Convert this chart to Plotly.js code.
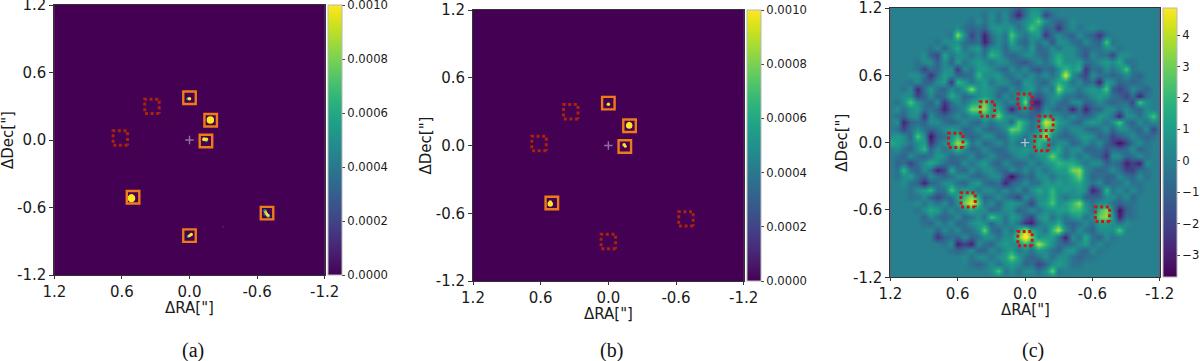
<!DOCTYPE html>
<html>
<head>
<meta charset="utf-8">
<script src="https://cdn.plot.ly/plotly-3.0.1.min.js"></script>
<style>
html,body{margin:0;padding:0;background:#fff;overflow:hidden}
#chart{position:absolute;left:0;top:-30px;width:1200px;height:391px}
.hm image{filter:blur(0.7px)}
</style>
</head>
<body>
<div id="chart"></div>
<script>
const tickValues = [1.2, 0.6, 0, -0.6, -1.2];
const tickLabels = ['1.2', '0.6', '0.0', '-0.6', '-1.2'];
const fluxTicks = [0, 0.0002, 0.0004, 0.0006, 0.0008, 0.001];
const snrTicks = [-3, -2, -1, 0, 1, 2, 3, 4];
const panelLabels = ['(a)', '(b)', '(c)'];

// detected-candidate box centres, RA / Dec in arcsec
const boxRaA = [0, -0.188, -0.146, 0.501, -0.688, 0];
const boxDecA = [0.375, 0.175, -0.009, -0.509, -0.65, -0.85];
const missRaA = [0.333, 0.614];
const missDecA = [0.299, 0.018];
const boxRaB = [0, -0.188, -0.146, 0.501];
const boxDecB = [0.375, 0.175, -0.009, -0.509];
const missRaB = [0.333, 0.614, 0, -0.688];
const missDecB = [0.299, 0.018, -0.85, -0.65];
const missRaC = [0, -0.187, -0.148, 0.507, -0.69, 0, 0.335, 0.617];
const missDecC = [0.37, 0.172, -0.009, -0.51, -0.638, -0.855, 0.3, 0.02];

// bright emission in panels a and b
const blobRaA = [0.015, 0, -0.185, -0.15, -0.13, -0.15, 0.515, 0.515, 0.515, -0.67, -0.70, -0.67, -0.675, -0.685, -0.695, 0.01, 0, -0.015, -0.3];
const blobDecA = [0.366, 0.366, 0.178, -0.006, 0.006, 0.006, -0.50, -0.517, -0.535, -0.63, -0.675, -0.66, -0.64, -0.655, -0.668, -0.855, -0.85, -0.84, -0.77];
const blobFluxA = [0.0006, 0.001, 0.001, 0.0004, 0.001, 0.001, 0.001, 0.001, 0.001, 0.0004, 0.0005, 0.0003, 0.0009, 0.001, 0.001, 0.0006, 0.001, 0.001, 0.00012];
const blobWidthA = [3, 3.5, 7.5, 3, 4, 3.5, 4.5, 7.5, 4.5, 4, 4, 3, 3, 3, 3, 3, 3, 3.5, 2];
const blobRaB = [0, -0.185, -0.185, -0.14, -0.15, 0.515, 0.515];
const blobDecB = [0.366, 0.178, 0.195, 0.006, -0.006, -0.517, -0.50];
const blobFluxB = [0.001, 0.001, 0.001, 0.001, 0.001, 0.001, 0.001];
const blobWidthB = [3.5, 6.5, 3.5, 3.5, 3, 5.5, 3.5];

// panel c map, read by eye on a 0.06 arcsec grid; rows from Dec 1.2 down, columns from RA 1.2 to -1.2
const snrRows = [
[0,0,0,0,0,0,0,0,0,0,0,0,0,0,0,0,0,0,-.5,-1.5,-.5,.5,.5,0,0,0,0,0,0,0,0,0,0,0,0,0,0,0,0,0,0],
[0,0,0,0,0,0,0,0,0,0,0,0,0,0,-.5,.5,-.5,.5,-1,-3,-.5,1,1,-2,-.5,0,0,0,0,0,0,0,0,0,0,0,0,0,0,0,0],
[0,0,0,0,0,0,0,0,0,0,0,0,-.5,.5,-.5,.5,-.5,.5,-.5,-.5,.5,1,2.5,.5,-.5,-1,-.5,.5,0,0,0,0,0,0,0,0,0,0,0,0,0],
[0,0,0,0,0,0,0,0,0,0,.5,-.5,-1,-.5,-1,.5,1,.5,1,-.5,.5,2.5,1,-1,-.5,-2.5,-.5,.5,-.5,0,.5,0,0,0,0,0,0,0,0,0,0],
[0,0,0,0,0,0,0,0,0,-.5,3.5,.5,-2,-.5,-3,-.5,.5,-.5,2.5,.5,-.5,.5,1,-2.5,-.5,.5,-.5,-1,.5,-.5,-1,-2.5,-.5,0,0,0,0,0,0,0,0],
[0,0,0,0,0,0,0,-.5,.5,.5,.5,-.5,-1,-.5,-3,-1,.5,-.5,1.5,-.5,-1,.5,-.5,.5,-1.5,.5,.5,-.5,-1,.5,-.5,-1,2.5,-.5,0,0,0,0,0,0,0],
[0,0,0,0,0,0,-.5,.5,-1,.5,1.5,-.5,.5,1,-1,.5,.5,-1,.5,.5,-.5,1,-1,-.5,.5,-.5,.5,.5,-.5,-1,-.5,-.5,.5,.5,-.5,0,0,0,0,0,0],
[0,0,0,0,0,.5,-1,-2,1.5,-.5,.5,.5,-.5,.5,-.5,2,1,-.5,-1,-.5,.5,.5,-.5,-1,.5,1.5,.5,.5,-.5,-1.5,.5,-.5,-.5,-2,.5,.5,0,0,0,0,0],
[0,0,0,0,-.5,.5,.5,-1,.5,-1,1,-.5,.5,1,.5,-.5,.5,.5,-.5,-1,-1.5,-.5,.5,-.5,.5,2,.5,.5,1,-.5,-.5,.5,1,.5,1.5,-.5,-.5,0,0,0,0],
[0,0,0,0,-.5,-2,-.5,-1,.5,.5,-2.5,.5,-.5,1,1,.5,-.5,-1,.5,-.5,.5,-1,-1.5,-.5,-1,.5,2,1,1.5,-2.5,-.5,-1,.5,-.5,.5,2.5,-.5,0,0,0,0],
[0,0,0,.5,.5,-.5,-2.5,-.5,1,.5,-1,-1,-.5,2,.5,.5,1,-.5,-.5,.5,-.5,.5,-.5,.5,-.5,.5,4.5,.5,-1,-2,.5,-.5,-.5,-1,-.5,.5,-.5,-1,0,0,0],
[0,0,0,-.5,.5,-1,-1,.5,1,-2.5,2,1,-.5,.5,1,-.5,.5,.5,-.5,-1,1,.5,-.5,-1,.5,1.5,1,-.5,.5,-1,-.5,-3,1,.5,-1,-.5,-1,-.5,0,0,0],
[0,0,-.5,.5,-3,-.5,1,-.5,-1,.5,-.5,1,3.5,.5,1,.5,-.5,-1,.5,-.5,.5,1,-.5,.5,-.5,3.5,1,.5,-.5,.5,1,.5,2.5,-1,-2,-1,.5,-.5,-1,0,0],
[0,0,.5,.5,-2,-1,.5,-1,-.5,1.5,.5,-1,-.5,.5,1,.5,-1,.5,-.5,.5,1.5,-.5,-1.5,-.5,.5,1,-.5,-.5,-1,-.5,.5,1,.5,-.5,-1,-2,-.5,-3,-.5,0,0],
[0,-.5,.5,2.5,.5,-.5,-1,.5,-2.5,-.5,.5,-.5,1,1.5,3,.5,.5,-.5,.5,-.5,3.5,-3,-3,-.5,.5,-.5,-1,.5,.5,-1,-.5,.5,-.5,-1,-.5,-.5,-2,2.5,.5,0,0],
[0,.5,-.5,.5,1,-.5,-.5,-1,-3,-1,-.5,.5,3,3,3.5,1,1.5,-.5,-3,-.5,.5,-1,-2,.5,-.5,-1,-.5,-3,-.5,-3,-1,-1,.5,.5,-.5,.5,-.5,-1,.5,0,0],
[0,-.5,-1,.5,.5,-2.5,.5,-.5,-1,-.5,.5,-.5,.5,.5,1.5,1,3,.5,.5,-.5,-.5,-1,-.5,1.5,.5,.5,-.5,.5,-.5,-1,-.5,1,.5,-.5,-3,.5,.5,-.5,.5,2.5,0],
[0,.5,-3,-1,-.5,-1,.5,.5,-.5,-1,-.5,.5,-.5,-1,.5,-.5,.5,.5,-1,2.5,1,-.5,.5,4.5,3,1,.5,-.5,-1,.5,1,.5,-.5,.5,2.5,-.5,-1,.5,-.5,.5,0],
[0,-.5,-2,-.5,.5,-.5,-1,-.5,.5,1,.5,-1,-.5,.5,-.5,-1,-.5,.5,3,2.5,.5,-.5,.5,2.5,2,.5,-.5,.5,.5,-.5,-1,-.5,.5,-1,.5,.5,-.5,-1,.5,-2,0],
[.5,1,.5,-1,2.5,.5,-3.5,-1,-.5,.5,2,-.5,-1,-.5,.5,.5,-1,-.5,1,.5,-.5,.5,1.5,4,.5,-.5,-1,-.5,.5,1,.5,-1,-.5,-2,-1,-.5,.5,-.5,-1,-.5,0],
[1.5,1,.5,-.5,.5,1,-2.5,-.5,.5,1.5,3.5,3,-.5,.5,-1,-.5,.5,-.5,.5,-.5,-.5,.5,2,.5,-.5,.5,.5,-1,-.5,.5,-.5,.5,-1,-2,-3.5,-2,-.5,.5,-.5,0,0],
[0,.5,-.5,-1,.5,2,-1,.5,-.5,.5,2,.5,-1,-.5,.5,-.5,-1,-.5,.5,.5,1,.5,1.5,.5,.5,1.5,-.5,.5,.5,-1,-1,-.5,-1.5,-.5,-1,-.5,.5,-1,-.5,0,0],
[0,-.5,-1,.5,-.5,-1,-.5,1,.5,-1,-.5,-.5,.5,-1,-.5,.5,-.5,-1,-.5,.5,.5,-.5,.5,1,3,1,-.5,.5,-.5,.5,-.5,-1,-2.5,.5,.5,-1,-.5,.5,-.5,0,0],
[0,-1,-.5,-2,-.5,.5,1.5,.5,-.5,-1,-1,.5,-.5,.5,1,-.5,-1,.5,-.5,-1,-.5,.5,-.5,.5,1,2,1.5,1.5,.5,-.5,.5,.5,-1,-.5,-1,-3,-2,-3,.5,0,0],
[0,-.5,2,-.5,-1,.5,-.5,-3,-2,1.5,-.5,-1,.5,-.5,.5,.5,-.5,-1,.5,-.5,.5,-.5,.5,-.5,.5,1,1,3,3.5,.5,-.5,-1,-.5,.5,-.5,-2,-2,-.5,-.5,0,0],
[0,-.5,.5,1,-.5,-1,.5,-.5,-1,-.5,.5,.5,-.5,-1,-.5,.5,.5,-1.5,-3.5,-1.5,-.5,-1,.5,.5,-.5,.5,.5,1.5,3,.5,-1,-.5,-1,-1,.5,-.5,-1,.5,-.5,0,0],
[0,0,.5,-.5,-1,-3,-1,-.5,.5,.5,-.5,-1,.5,1,-.5,-1,-.5,-3,-1,-.5,.5,-.5,-.5,1,.5,1,.5,1,1.5,.5,-.5,.5,-1,-.5,-.5,.5,-.5,-.5,0,0,0],
[0,0,0,-.5,.5,1,2,-.5,-.5,2.5,.5,1,.5,-.5,.5,.5,-.5,.5,-.5,.5,-1,.5,1.5,.5,2,.5,1,.5,1,.5,-3,-1.5,2,-.5,.5,-.5,.5,-.5,0,0,0],
[0,0,0,-.5,-.5,.5,-1,-2,-1,-.5,1,2,3.5,1.5,-1,-.5,.5,-.5,-1,-2,.5,-.5,.5,.5,2,.5,-.5,.5,.5,-1,-1,-1,.5,.5,-.5,.5,-1,0,0,0,0],
[0,0,0,0,.5,-.5,.5,-.5,.5,-1,.5,3,4.5,2.5,-.5,.5,-1,.5,1,.5,-.5,-2,.5,1,2.5,.5,1,2,3.5,.5,-.5,.5,.5,-.5,-1,-.5,-.5,0,0,0,0],
[0,0,0,0,-.5,.5,1.5,1,-.5,.5,-.5,.5,1.5,.5,.5,-1,-.5,.5,.5,-1,-.5,.5,-.5,.5,.5,1,1,2,2,1,-.5,2,3.5,.5,-3.5,-1,-.5,0,0,0,0],
[0,0,0,0,0,-1,.5,-.5,-1,-.5,.5,-1,-.5,.5,-.5,2.5,1,-.5,1,.5,-1,-2,.5,1,-.5,.5,-.5,.5,1,-.5,.5,3,3.5,1,-3,-.5,-.5,0,0,0,0],
[0,0,0,0,0,-.5,-1,.5,-.5,.5,-1,-.5,.5,1,.5,-1,.5,-.5,.5,-.5,-2.5,-3,-.5,.5,.5,1.5,-.5,-1,-.5,.5,-.5,1,1,.5,-.5,.5,0,0,0,0,0],
[0,0,0,0,0,0,.5,-1,.5,-.5,.5,-1,-.5,.5,3,-.5,-1,.5,-.5,1.5,4,1.5,.5,-.5,2,4,.5,-1,.5,-.5,-1,.5,.5,.5,2.5,0,0,0,0,0,0],
[0,0,0,0,0,0,0,-2.5,-1,-.5,-1,.5,-1,-.5,.5,.5,-.5,.5,.5,3,5.5,3,.5,1,1,-.5,-3,.5,-.5,1.5,-.5,-1,.5,-.5,0,0,0,0,0,0,0],
[0,0,0,0,0,0,0,0,-.5,.5,-3,-2,-3,.5,-.5,-1,.5,1,.5,.5,2,.5,4,2,.5,-.5,-1,-.5,.5,1,-.5,.5,-.5,0,0,0,0,0,0,0,0],
[0,0,0,0,0,0,0,0,0,-.5,-1,-.5,.5,-1,-1,.5,-.5,.5,1,-.5,.5,-.5,1,.5,-.5,-1,.5,1,-.5,-1,.5,-.5,0,0,0,0,0,0,0,0,0],
[0,0,0,0,0,0,0,0,0,0,0,.5,-.5,.5,.5,-.5,.5,1,3,1,-.5,-1,-.5,.5,-.5,.5,.5,-.5,-1,-.5,-.5,0,0,0,0,0,0,0,0,0,0],
[0,0,0,0,0,0,0,0,0,0,0,0,-.5,-1,-.5,.5,-.5,.5,1,.5,-1,-.5,-2,-1,.5,1,.5,-.5,-.5,0,0,0,0,0,0,0,0,0,0,0,0],
[0,0,0,0,0,0,0,0,0,0,0,0,0,0,0,.5,2.5,-.5,.5,-.5,.5,.5,-.5,.5,3,-.5,0,0,0,0,0,0,0,0,0,0,0,0,0,0,0],
[0,0,0,0,0,0,0,0,0,0,0,0,0,0,0,0,0,0,0,0,0,0,0,0,0,0,0,0,0,0,0,0,0,0,0,0,0,0,0,0,0]
];
const snrRa = [1.2,1.14,1.08,1.02,0.96,0.9,0.84,0.78,0.72,0.66,0.6,0.54,0.48,0.42,0.36,0.3,0.24,0.18,0.12,0.06,0,-0.06,-0.12,-0.18,-0.24,-0.3,-0.36,-0.42,-0.48,-0.54,-0.6,-0.66,-0.72,-0.78,-0.84,-0.9,-0.96,-1.02,-1.08,-1.14,-1.2];
const snrDec = snrRa;
const emptyEdge = [-1.2, 1.2];
const emptyMap = [[0, 0], [0, 0]];
const centreRa = [0];
const centreDec = [0];

const W = 1200, PAD = 30, H = 361 + PAD;
const fy = px => 1 - (px + PAD) / H;
const panels = [
  {ax: '', l: 54.3, r: 324.7, t: 5, b: 275, cbL: 327.7, titleX: 189.5, yTitle: 8, labelX: 193},
  {ax: '2', l: 473, r: 743.7, t: 10, b: 281, cbL: 747, titleX: 608.3, yTitle: 425, labelX: 611.7},
  {ax: '3', l: 890.3, r: 1159.7, t: 8, b: 277.3, cbL: 1163, titleX: 1025, yTitle: 842, labelX: 1032.7}
];

function colourbar(p, ticks, fmt) {
  return {
    x: p.cbL / W, xanchor: 'left', xpad: 0, ypad: 0,
    y: fy(p.b), yanchor: 'bottom', len: (p.b - p.t) / H, lenmode: 'fraction',
    thickness: 14, thicknessmode: 'pixels',
    outlinecolor: '#b8b8b8', outlinewidth: 1,
    tickmode: 'array', tickvals: ticks, tickformat: fmt,
    ticks: 'outside', ticklen: 3, tickwidth: 1, tickcolor: '#444',
    tickfont: {family: 'DejaVu Sans', size: 11.6, color: '#1a1a1a'}
  };
}

function squares(ax, ra, dec) {
  return {type: 'scatter', mode: 'markers', x: ra, y: dec, xaxis: 'x' + ax, yaxis: 'y' + ax, hoverinfo: 'skip',
    marker: {symbol: 'square-open', size: 12.5, color: '#ee7a18', opacity: 1, line: {width: 2.4, color: '#ee7a18'}}};
}

function dotted(ax, ra, dec, colour) {
  const half = 0.064, xs = [], ys = [];
  ra.forEach((r, i) => {
    xs.push(r - half, r + half, r + half, r - half, r - half, null);
    ys.push(dec[i] - half, dec[i] - half, dec[i] + half, dec[i] + half, dec[i] - half, null);
  });
  return {type: 'scatter', mode: 'lines', x: xs, y: ys, xaxis: 'x' + ax, yaxis: 'y' + ax, hoverinfo: 'skip',
    line: {color: colour, width: 3, dash: '3px,2.6px'}};
}

function blobs(ax, ra, dec, flux, width) {
  return {type: 'scatter', mode: 'markers', x: ra, y: dec, xaxis: 'x' + ax, yaxis: 'y' + ax, hoverinfo: 'skip',
    marker: {color: flux, cmin: 0, cmax: 0.001, colorscale: 'Viridis', size: width, opacity: 1, line: {width: 0}}};
}

function centre(ax, colour) {
  return {type: 'scatter', mode: 'markers', x: centreRa, y: centreDec, xaxis: 'x' + ax, yaxis: 'y' + ax, hoverinfo: 'skip',
    marker: {symbol: 'cross-thin-open', size: 6, color: colour, line: {width: 1.4, color: colour}}};
}

const data = [
  {type: 'heatmap', x: emptyEdge, y: emptyEdge, z: emptyMap, zmin: 0, zmax: 0.001, colorscale: 'Viridis', xaxis: 'x', yaxis: 'y',
   colorbar: colourbar(panels[0], fluxTicks, '.4f')},
  blobs('', blobRaA, blobDecA, blobFluxA, blobWidthA),
  squares('', boxRaA, boxDecA),
  dotted('', missRaA, missDecA, '#a8240c'),
  centre('', '#8f6f9f'),
  {type: 'heatmap', x: emptyEdge, y: emptyEdge, z: emptyMap, zmin: 0, zmax: 0.001, colorscale: 'Viridis', xaxis: 'x2', yaxis: 'y2',
   colorbar: colourbar(panels[1], fluxTicks, '.4f')},
  blobs('2', blobRaB, blobDecB, blobFluxB, blobWidthB),
  squares('2', boxRaB, boxDecB),
  dotted('2', missRaB, missDecB, '#a8240c'),
  centre('2', '#8f6f9f'),
  {type: 'heatmap', x: snrRa, y: snrDec, z: snrRows, zmin: -3.7, zmax: 4.85, colorscale: 'Viridis', zsmooth: 'best', xaxis: 'x3', yaxis: 'y3',
   colorbar: colourbar(panels[2], snrTicks, 'd')},
  dotted('3', missRaC, missDecC, '#cf1616'),
  centre('3', '#a9c7cf')
];

const layout = {
  width: W, height: H, margin: {l: 0, r: 0, t: 0, b: 0}, showlegend: false,
  paper_bgcolor: '#fff', plot_bgcolor: '#440154',
  font: {family: 'DejaVu Sans', color: '#1a1a1a'},
  annotations: []
};

panels.forEach((p, i) => {
  const common = {
    range: [1.2, -1.2], autorange: false, tickmode: 'array', tickvals: tickValues, ticktext: tickLabels,
    ticks: 'outside', ticklen: 4, tickwidth: 1, tickcolor: '#333', showgrid: false, zeroline: false,
    showline: true, mirror: true, linecolor: '#333', linewidth: 1,
    tickfont: {family: 'DejaVu Sans', size: 15, color: '#1a1a1a'}
  };
  layout['xaxis' + p.ax] = Object.assign({}, common, {domain: [p.l / W, p.r / W], anchor: 'y' + p.ax, ticklen: 3});
  layout['yaxis' + p.ax] = Object.assign({}, common, {domain: [fy(p.b), fy(p.t)], anchor: 'x' + p.ax, range: [-1.2, 1.2]});
  layout.annotations.push(
    {xref: 'paper', yref: 'paper', x: p.titleX / W, y: fy(p.b + 32.5), text: 'ΔRA["]', showarrow: false, xanchor: 'center', yanchor: 'middle', borderpad: 0,
     font: {family: 'DejaVu Sans', size: 15, color: '#1a1a1a'}},
    {xref: 'paper', yref: 'paper', x: p.yTitle / W, y: fy((p.t + p.b) / 2), text: 'ΔDec["]', textangle: -90, showarrow: false, xanchor: 'center', yanchor: 'middle', borderpad: 0,
     font: {family: 'DejaVu Sans', size: 15, color: '#1a1a1a'}},
    {xref: 'paper', yref: 'paper', x: p.labelX / W, y: fy(350), text: panelLabels[i], showarrow: false, xanchor: 'center', yanchor: 'middle',
     font: {family: 'Liberation Serif', size: 20, color: '#111'}}
  );
});

Plotly.newPlot('chart', data, layout, {displayModeBar: false, staticPlot: true});
</script>
</body>
</html>
